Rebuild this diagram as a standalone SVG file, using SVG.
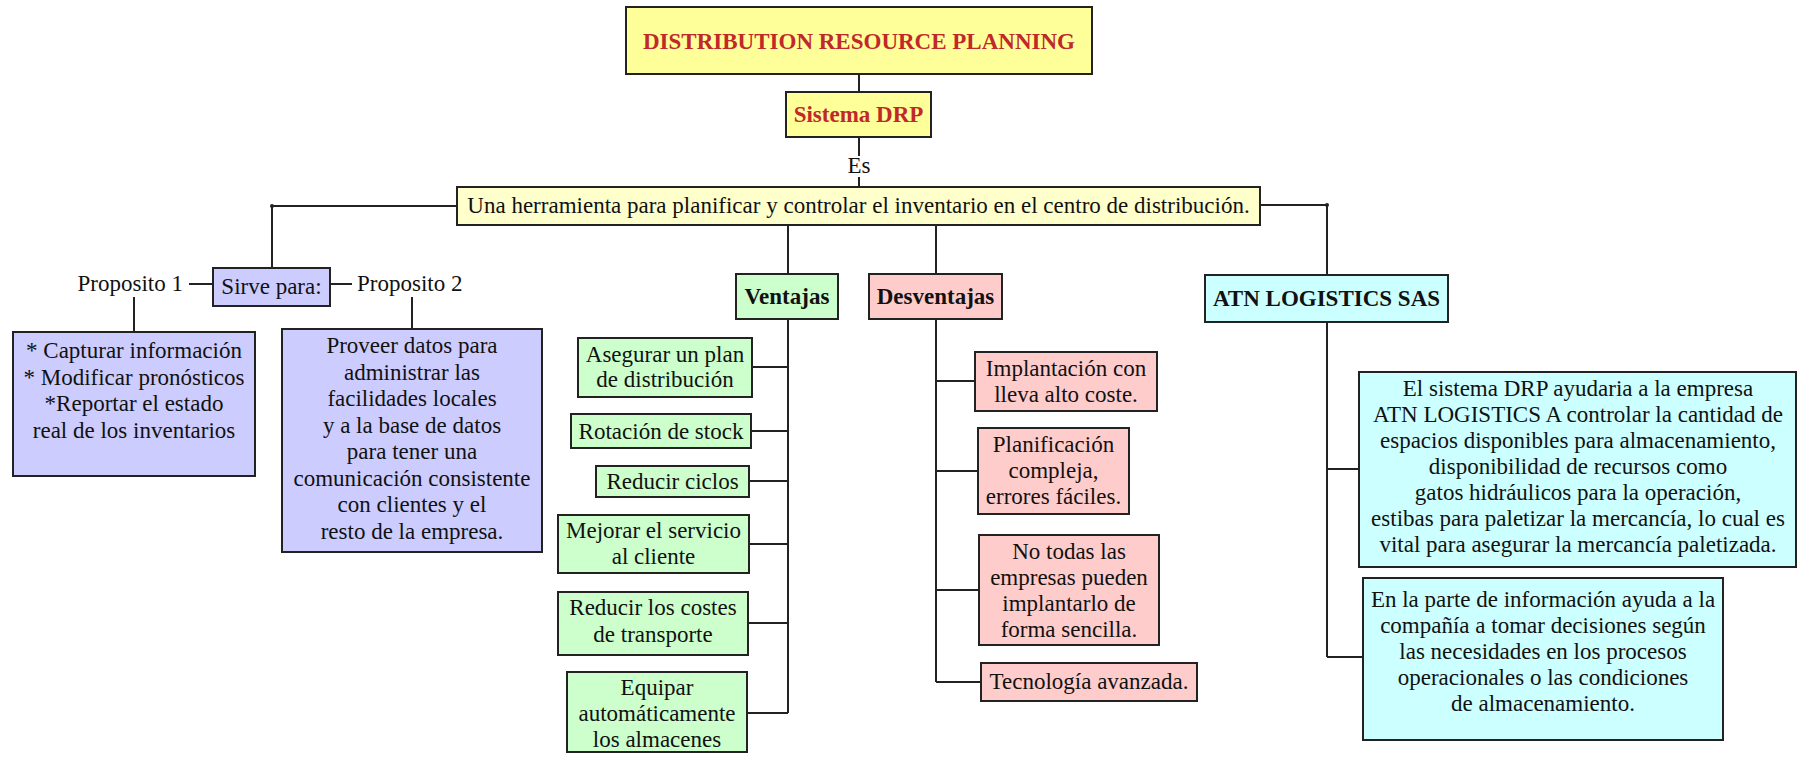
<svg xmlns="http://www.w3.org/2000/svg" width="1805" height="758" viewBox="0 0 1805 758">
<defs>
<style>
.bx{stroke:#222;stroke-width:2}
.ty{fill:#ffff99}.tl{fill:#ffffcc}.bl{fill:#ccccff}.gr{fill:#ccffcc}.pk{fill:#ffcccc}.cy{fill:#ccffff}
.t{font-family:"Liberation Serif","Times New Roman",serif;font-size:23px;fill:#111;text-anchor:middle}
.l{text-anchor:start}.r{text-anchor:end}
.b{font-weight:bold}
.red{fill:#c0282a}
.cn{fill:none;stroke:#222;stroke-width:2}
.dot{fill:#222}
</style>
</defs>
<rect width="1805" height="758" fill="#ffffff"/>

<g id="connectors">
<path class="cn" d="M859 74V92M859 137V156M859 177V187"/>
<path class="cn" d="M457 206H272V268M1260 205H1327V275"/>
<path class="cn" d="M788 225V274M936 225V274"/>
<path class="cn" d="M189 284H213M330 284H352M134 297V332M412 297V329"/>
<path class="cn" d="M788 319V713M752 367H788M751 431H788M749 481H788M749 544H788M748 623H788M747 713H788"/>
<path class="cn" d="M936 319V682M936 381H975M936 471H978M936 590H979M936 682H981"/>
<path class="cn" d="M1327 322V657M1327 469H1359M1327 657H1363"/>
<circle class="dot" cx="272" cy="206" r="2"/>
<circle class="dot" cx="1327" cy="205" r="2"/>
</g>

<g id="title">
<rect class="bx ty" x="626" y="7" width="466" height="67"/>
<text class="t b red" x="859" y="49" font-size="24" textLength="432" lengthAdjust="spacingAndGlyphs">DISTRIBUTION RESOURCE PLANNING</text>
</g>

<g id="sistema">
<rect class="bx ty" x="786" y="92" width="145" height="45"/>
<text class="t b red" x="858.5" y="122">Sistema DRP</text>
</g>

<g id="es-label">
<text class="t" x="859" y="173">Es</text>
</g>

<g id="herramienta">
<rect class="bx tl" x="457" y="187" width="803" height="38"/>
<text class="t" x="858.5" y="213">Una herramienta para planificar y controlar el inventario en el centro de distribución.</text>
</g>

<g id="sirve">
<rect class="bx bl" x="213" y="268" width="117" height="38"/>
<text class="t" x="271.5" y="294">Sirve para:</text>
</g>

<g id="proposito1">
<text class="t r" x="183" y="291">Proposito 1</text>
</g>

<g id="proposito2">
<text class="t l" x="357" y="291">Proposito 2</text>
</g>

<g id="box-proposito1">
<rect class="bx bl" x="13" y="332" width="242" height="144"/>
<text class="t" x="134" y="358">* Capturar información</text>
<text class="t" x="134" y="384.5">* Modificar pronósticos</text>
<text class="t" x="134" y="411">*Reportar el estado</text>
<text class="t" x="134" y="437.5">real de los inventarios</text>
</g>

<g id="box-proposito2">
<rect class="bx bl" x="282" y="329" width="260" height="223"/>
<text class="t" x="412" y="353">Proveer datos para</text>
<text class="t" x="412" y="379.5">administrar las</text>
<text class="t" x="412" y="406">facilidades locales</text>
<text class="t" x="412" y="432.5">y a la base de datos</text>
<text class="t" x="412" y="459">para tener una</text>
<text class="t" x="412" y="485.5">comunicación consistente</text>
<text class="t" x="412" y="512">con clientes y el</text>
<text class="t" x="412" y="538.5">resto de la empresa.</text>
</g>

<g id="ventajas">
<rect class="bx gr" x="736" y="274" width="102" height="45"/>
<text class="t b" x="787" y="304">Ventajas</text>
</g>

<g id="desventajas">
<rect class="bx pk" x="869" y="274" width="133" height="45"/>
<text class="t b" x="935.5" y="304">Desventajas</text>
</g>

<g id="v1">
<rect class="bx gr" x="578" y="338" width="174" height="59"/>
<text class="t" x="665" y="362">Asegurar un plan</text>
<text class="t" x="665" y="387">de distribución</text>
</g>
<g id="v2">
<rect class="bx gr" x="571" y="414" width="180" height="34"/>
<text class="t" x="661" y="439">Rotación de stock</text>
</g>
<g id="v3">
<rect class="bx gr" x="596" y="466" width="153" height="31"/>
<text class="t" x="672.5" y="489">Reducir ciclos</text>
</g>
<g id="v4">
<rect class="bx gr" x="558" y="515" width="191" height="58"/>
<text class="t" x="653.5" y="538">Mejorar el servicio</text>
<text class="t" x="653.5" y="564">al cliente</text>
</g>
<g id="v5">
<rect class="bx gr" x="558" y="592" width="190" height="63"/>
<text class="t" x="653" y="615">Reducir los costes</text>
<text class="t" x="653" y="642">de transporte</text>
</g>
<g id="v6">
<rect class="bx gr" x="567" y="672" width="180" height="80"/>
<text class="t" x="657" y="695">Equipar</text>
<text class="t" x="657" y="721">automáticamente</text>
<text class="t" x="657" y="747">los almacenes</text>
</g>

<g id="d1">
<rect class="bx pk" x="975" y="352" width="182" height="59"/>
<text class="t" x="1066" y="376">Implantación con</text>
<text class="t" x="1066" y="402">lleva alto coste.</text>
</g>
<g id="d2">
<rect class="bx pk" x="978" y="428" width="151" height="86"/>
<text class="t" x="1053.5" y="452">Planificación</text>
<text class="t" x="1053.5" y="478">compleja,</text>
<text class="t" x="1053.5" y="504">errores fáciles.</text>
</g>
<g id="d3">
<rect class="bx pk" x="979" y="535" width="180" height="110"/>
<text class="t" x="1069" y="559">No todas las</text>
<text class="t" x="1069" y="585">empresas pueden</text>
<text class="t" x="1069" y="611">implantarlo de</text>
<text class="t" x="1069" y="637">forma sencilla.</text>
</g>
<g id="d4">
<rect class="bx pk" x="981" y="663" width="216" height="38"/>
<text class="t" x="1089" y="689">Tecnología avanzada.</text>
</g>

<g id="atn">
<rect class="bx cy" x="1205" y="275" width="243" height="47"/>
<text class="t b" x="1326.5" y="306">ATN LOGISTICS SAS</text>
</g>

<g id="atn1">
<rect class="bx cy" x="1359" y="372" width="437" height="195"/>
<text class="t" x="1578" y="396">El sistema DRP ayudaria a la empresa</text>
<text class="t" x="1578" y="422">ATN LOGISTICS A controlar la cantidad de</text>
<text class="t" x="1578" y="448">espacios disponibles para almacenamiento,</text>
<text class="t" x="1578" y="474">disponibilidad de recursos como</text>
<text class="t" x="1578" y="500">gatos hidráulicos para la operación,</text>
<text class="t" x="1578" y="526">estibas para paletizar la mercancía, lo cual es</text>
<text class="t" x="1578" y="552">vital para asegurar la mercancía paletizada.</text>
</g>

<g id="atn2">
<rect class="bx cy" x="1363" y="578" width="360" height="162"/>
<text class="t" x="1543" y="607">En la parte de información ayuda a la</text>
<text class="t" x="1543" y="633">compañía a tomar decisiones según</text>
<text class="t" x="1543" y="659">las necesidades en los procesos</text>
<text class="t" x="1543" y="685">operacionales o las condiciones</text>
<text class="t" x="1543" y="711">de almacenamiento.</text>
</g>
</svg>
